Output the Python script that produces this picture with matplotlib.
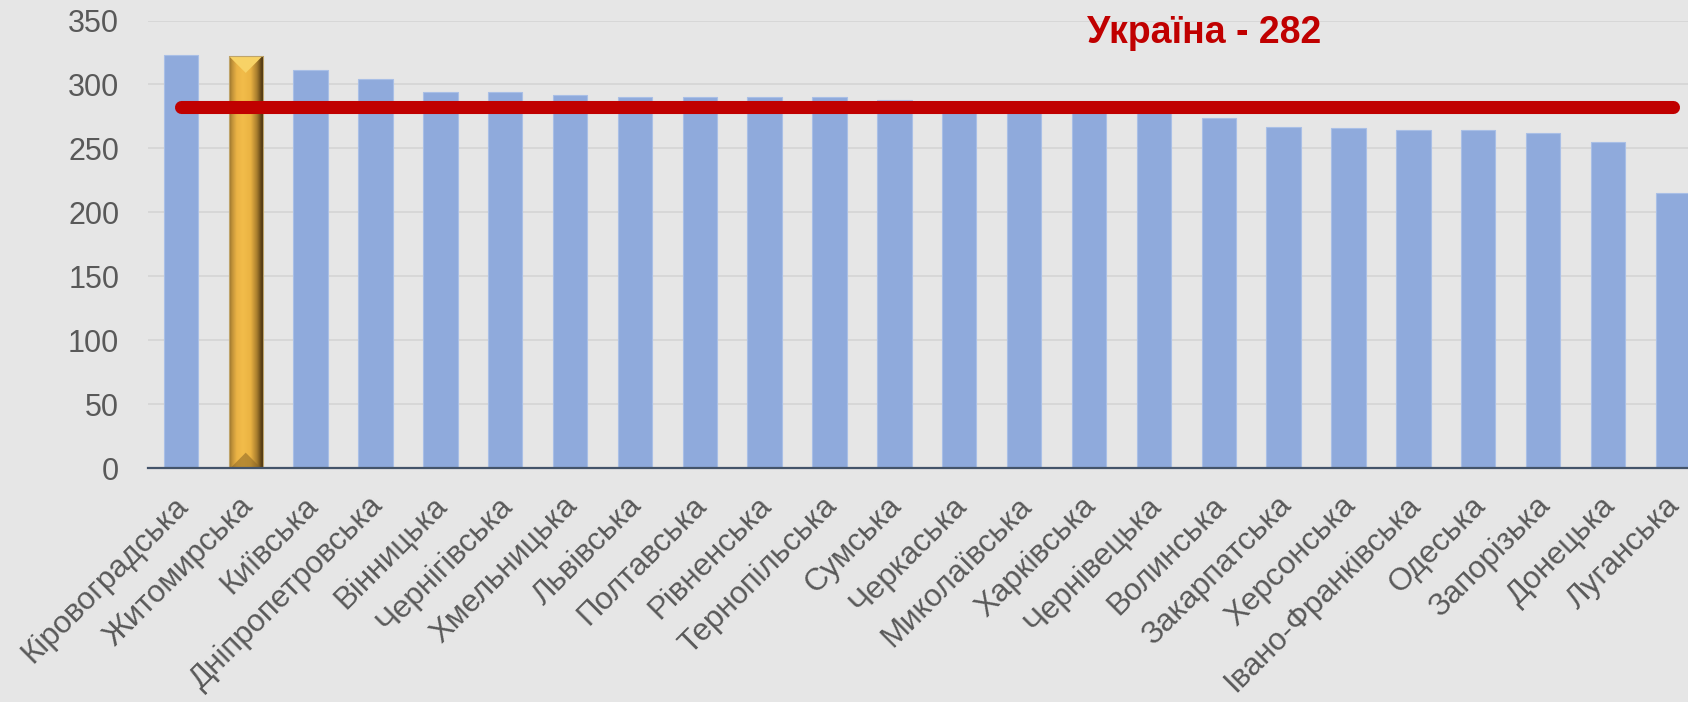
import numpy as np
import matplotlib
matplotlib.use("Agg")
import matplotlib.pyplot as plt
from matplotlib.patches import Polygon
from matplotlib.transforms import ScaledTranslation

# ---------------- data ----------------
regions = ["Кіровоградська", "Житомирська", "Київська", "Дніпропетровська",
           "Вінницька", "Чернігівська", "Хмельницька", "Львівська",
           "Полтавська", "Рівненська", "Тернопільська", "Сумська",
           "Черкаська", "Миколаївська", "Харківська", "Чернівецька",
           "Волинська", "Закарпатська", "Херсонська", "Івано-Франківська",
           "Одеська", "Запорізька", "Донецька", "Луганська"]
values = [323, 322, 311, 304, 294, 294, 292, 290, 290, 290, 290, 288,
          285, 284, 283, 281, 274, 267, 266, 264, 264, 262, 255, 215]
highlight = "Житомирська"
national_name = "Україна"
national_value = 282
y_ticks = [0, 50, 100, 150, 200, 250, 300, 350]

# ---------------- style ----------------
plt.rcParams["font.family"] = ["Liberation Sans", "DejaVu Sans"]
BG = "#E6E6E6"
BLUE = "#8FAADC"
RED = "#C00000"
GREY_TXT = "#595959"

W, H = 1688, 702
fig = plt.figure(figsize=(W / 100, H / 100), dpi=100)
fig.patch.set_facecolor(BG)
left_px, right_px = 148.4, 148.4 + 24 * 64.87
top_px, bottom_px = 20.5, 468.0
ax = fig.add_axes([left_px / W, 1 - bottom_px / H,
                   (right_px - left_px) / W, (bottom_px - top_px) / H])
ax.set_facecolor(BG)

x = np.arange(len(regions))
bw = 0.53
bars = ax.bar(x, values, width=bw, color=BLUE, edgecolor="#A9BFE6",
              linewidth=0.8, zorder=2)

# golden highlighted bar with bevel
hi = regions.index(highlight)
hb = bars[hi]
hb.set_facecolor("none")
hb.set_edgecolor("none")
x0, x1 = x[hi] - bw / 2, x[hi] + bw / 2
v = values[hi]
stops = [(0.0, (0.58, 0.43, 0.16)), (0.08, (0.74, 0.56, 0.22)),
         (0.22, (0.92, 0.70, 0.27)), (0.40, (0.95, 0.74, 0.29)),
         (0.62, (0.92, 0.70, 0.26)), (0.80, (0.66, 0.49, 0.18)),
         (0.92, (0.38, 0.27, 0.09)), (1.0, (0.24, 0.17, 0.06))]
pos = np.linspace(0, 1, 256)
grad = np.zeros((1, 256, 3))
for c in range(3):
    grad[0, :, c] = np.interp(pos, [s[0] for s in stops], [s[1][c] for s in stops])
im = ax.imshow(grad, extent=(x0, x1, 0, v), aspect="auto", zorder=2.5,
               interpolation="bicubic")
im.set_clip_path(hb)
bev_t = 13.0
ax.add_patch(Polygon([(x0 + 0.01, v), (x1 - 0.01, v), (x[hi], v - bev_t)],
                     closed=True, facecolor="#F7D266", edgecolor="none", zorder=2.6))
ax.add_patch(Polygon([(x0 + 0.03, 0), (x1 - 0.03, 0), (x[hi], 12)],
                     closed=True, facecolor="#8A6524", alpha=0.55,
                     edgecolor="none", zorder=2.6))
ax.add_patch(Polygon([(x0, 0), (x1, 0), (x1, v), (x0, v)], closed=True,
                     facecolor="none", edgecolor="#BFA46A", linewidth=0.8, zorder=2.7))

# national average line
ax.plot([x[0], x[-1]], [national_value, national_value], color=RED, lw=9.4,
        solid_capstyle="round", zorder=4)
ax.text(13.97, 332.3, f"{national_name} - {national_value}", color=RED,
        fontsize=27, fontweight="bold", ha="left", va="baseline", zorder=5)

# axes styling
ax.set_xlim(-0.5, len(regions) - 0.5)
ax.set_ylim(0, 350)
ax.set_yticks(y_ticks)
ax.set_yticklabels([str(t) for t in y_ticks])
ax.set_xticks(x)
ax.set_xticklabels(regions, rotation=45, ha="right", va="center",
                   rotation_mode="anchor")
ax.tick_params(axis="y", length=0, pad=21, labelsize=22, labelcolor=GREY_TXT)
ax.tick_params(axis="x", length=0, pad=24, labelsize=22.5, labelcolor=GREY_TXT)
offset = ScaledTranslation(2 / 72, 0, fig.dpi_scale_trans)
for lbl in ax.get_xticklabels():
    lbl.set_transform(lbl.get_transform() + offset)
ax.grid(axis="y", color="#D6D6D6", linewidth=1.3, zorder=0)
ax.set_axisbelow(True)
for s in ["top", "right", "left"]:
    ax.spines[s].set_visible(False)
ax.spines["bottom"].set_color("#44546A")
ax.spines["bottom"].set_linewidth(1.6)
ax.spines["bottom"].set_zorder(3)

fig.savefig("out.png", dpi=100, facecolor=BG)
